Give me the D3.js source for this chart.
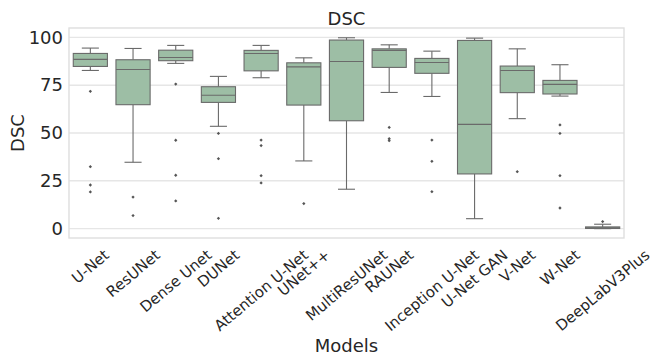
<!DOCTYPE html>
<html>
<head>
<meta charset="utf-8">
<script src="https://cdn.jsdelivr.net/npm/d3@7"></script>
<style>
  html, body { margin: 0; padding: 0; background: #fff; }
  svg { display: block; font-family: "DejaVu Sans", sans-serif; }
</style>
</head>
<body>
<svg id="chart" width="652" height="356"></svg>
<script>
// Dice similarity coefficient (%) per segmentation model
const models = ["U-Net", "ResUNet", "Dense Unet", "DUNet", "Attention U-Net", "UNet++",
  "MultiResUNet", "RAUNet", "Inception U-Net", "U-Net GAN", "V-Net", "W-Net", "DeepLabV3Plus"];
const whiskerLow  = [82.7, 34.7, 86.4, 53.5, 78.9, 35.4, 20.6, 71.2, 69.1,  5.2, 57.5, 69.3, 0.0];
const q1          = [84.8, 64.8, 87.8, 66.0, 82.5, 64.6, 56.4, 84.3, 81.2, 28.6, 71.1, 70.4, 0.1];
const median      = [88.5, 83.2, 89.5, 69.7, 91.6, 84.6, 87.4, 93.2, 86.9, 54.5, 82.7, 75.4, 0.4];
const q3          = [91.6, 88.3, 93.3, 74.2, 93.2, 86.7, 98.6, 94.0, 89.0, 98.4, 85.0, 77.5, 0.9];
const whiskerHigh = [94.4, 94.2, 95.8, 79.6, 95.8, 89.3, 99.8, 96.1, 92.8, 99.6, 94.0, 85.7, 2.3];
const outliers = [
  [71.8, 32.4, 22.8, 19.2],
  [16.5, 6.8],
  [75.6, 46.2, 27.9, 14.5],
  [49.8, 36.6, 5.4],
  [46.3, 43.4, 27.7, 23.9],
  [13.1],
  [],
  [52.9, 47.0, 46.0],
  [46.3, 35.2, 19.3],
  [],
  [29.8],
  [54.2, 49.8, 27.7, 10.8],
  [3.7]
];
const yTicks = [0, 25, 50, 75, 100];

const svg = d3.select("#chart");
const margin = { left: 69, right: 28, top: 28, bottom: 118 };
const W = 652, H = 356;
const plotW = W - margin.left - margin.right;
const plotH = H - margin.top - margin.bottom;

const x = d3.scaleBand().domain(models).range([margin.left, margin.left + plotW]).paddingInner(0).paddingOuter(0);
const y = d3.scaleLinear().domain([-4.9, 104.9]).range([margin.top + plotH, margin.top]);

const fill = "#9dbea5";
const line = "#6a6a6a";

// horizontal grid
const yAxis = d3.axisLeft(y).tickValues(yTicks).tickSize(0).tickPadding(6);
const gy = svg.append("g").attr("transform", `translate(${margin.left},0)`).call(yAxis);
gy.select(".domain").remove();
gy.selectAll("text").attr("font-size", 18).attr("fill", "#262626").attr("font-family", "DejaVu Sans");
svg.append("g").selectAll("line").data(yTicks).join("line")
  .attr("x1", margin.left).attr("x2", margin.left + plotW)
  .attr("y1", d => y(d)).attr("y2", d => y(d))
  .attr("stroke", "#e6e6e6").attr("stroke-width", 1.4);

// frame
svg.append("rect").attr("x", margin.left).attr("y", margin.top)
  .attr("width", plotW).attr("height", plotH)
  .attr("fill", "none").attr("stroke", "#dedede").attr("stroke-width", 1.4);

// boxes
const bw = x.bandwidth() * 0.8;
const g = svg.append("g").selectAll("g").data(models).join("g");
g.each(function (m, i) {
  const s = d3.select(this);
  const cx = x(m) + x.bandwidth() / 2;
  // whiskers
  s.append("line").attr("x1", cx).attr("x2", cx).attr("y1", y(whiskerLow[i])).attr("y2", y(q1[i]))
    .attr("stroke", line).attr("stroke-width", 1.1);
  s.append("line").attr("x1", cx).attr("x2", cx).attr("y1", y(q3[i])).attr("y2", y(whiskerHigh[i]))
    .attr("stroke", line).attr("stroke-width", 1.1);
  // caps
  [whiskerLow[i], whiskerHigh[i]].forEach(v => {
    s.append("line").attr("x1", cx - bw / 4).attr("x2", cx + bw / 4).attr("y1", y(v)).attr("y2", y(v))
      .attr("stroke", line).attr("stroke-width", 1.1);
  });
  // box
  s.append("rect").attr("x", cx - bw / 2).attr("width", bw)
    .attr("y", y(q3[i])).attr("height", Math.max(0.5, y(q1[i]) - y(q3[i])))
    .attr("fill", fill).attr("stroke", line).attr("stroke-width", 1.1);
  // median
  s.append("line").attr("x1", cx - bw / 2).attr("x2", cx + bw / 2).attr("y1", y(median[i])).attr("y2", y(median[i]))
    .attr("stroke", line).attr("stroke-width", 1.1);
  // outliers (diamonds)
  s.selectAll("path.out").data(outliers[i]).join("path").attr("class", "out")
    .attr("d", d3.symbol(d3.symbolDiamond2, 7))
    .attr("transform", v => `translate(${cx},${y(v)})`)
    .attr("fill", "#555");
});

// x tick labels, rotated 40°, bounding box centred on the tick
const angle = 40, rad = angle * Math.PI / 180;
const labelTop = 246, fs = 15;
svg.append("g").selectAll("text").data(models).join("text")
  .text(d => d)
  .attr("font-size", fs).attr("fill", "#262626")
  .attr("text-anchor", "middle").attr("dy", "0.35em")
  .attr("transform", function (d) {
    const w = this.getComputedTextLength();
    const h = fs * 1.16;
    const bh = w * Math.sin(rad) + h * Math.cos(rad);
    const cx = x(d) + x.bandwidth() / 2;
    return `translate(${cx},${labelTop + bh / 2}) rotate(${-angle})`;
  });

// titles
svg.append("text").attr("x", margin.left + plotW / 2).attr("y", 25)
  .attr("text-anchor", "middle").attr("font-size", 18).attr("fill", "#262626").text("DSC");
svg.append("text").attr("x", margin.left + plotW / 2).attr("y", 352)
  .attr("text-anchor", "middle").attr("font-size", 18).attr("fill", "#262626").text("Models");
svg.append("text").attr("transform", `translate(24,${margin.top + plotH / 2}) rotate(-90)`)
  .attr("text-anchor", "middle").attr("font-size", 18).attr("fill", "#262626").text("DSC");
</script>
</body>
</html>
